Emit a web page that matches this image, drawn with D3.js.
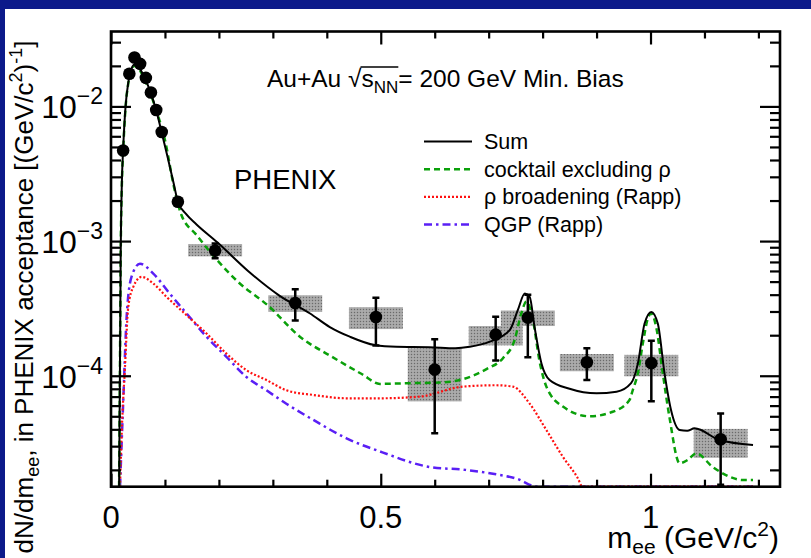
<!DOCTYPE html>
<html>
<head>
<meta charset="utf-8">
<script src="https://cdn.jsdelivr.net/npm/d3@7"></script>
<style>
  html, body { margin: 0; padding: 0; background: #0c1a8a; }
  svg { display: block; font-family: "Liberation Sans", Arial, sans-serif; }
</style>
</head>
<body>
<svg id="chart" width="811" height="558"></svg>
<script>
// measured points (m_ee in GeV/c^2, dN/dm_ee)
var dataX = [0.0225, 0.034, 0.0435, 0.054, 0.0646, 0.074, 0.0838, 0.094, 0.124, 0.193, 0.3415, 0.491, 0.600, 0.713, 0.7726, 0.882, 1.0015, 1.13];
var dataY = [4.7e-3, 1.75e-2, 2.31e-2, 2.07e-2, 1.63e-2, 1.27e-2, 9.4e-3, 6.45e-3, 1.96e-3, 8.5e-4, 3.47e-4, 2.73e-4, 1.11e-4, 2.02e-4, 2.70e-4, 1.26e-4, 1.24e-4, 3.38e-5];
// statistical errors (only the points above 0.15 have visible bars)
var statLo = [null, null, null, null, null, null, null, null, null, 7.45e-4, 2.57e-4, 1.68e-4, 3.74e-5, 1.30e-4, 1.37e-4, 9.3e-5, 6.46e-5, 1.55e-5];
var statHi = [null, null, null, null, null, null, null, null, null, 9.6e-4, 4.39e-4, 3.8e-4, 1.87e-4, 2.74e-4, 4.0e-4, 1.6e-4, 1.82e-4, 5.24e-5];
// systematic boxes
var sysLo = [null, null, null, null, null, null, null, null, null, 7.7e-4, 2.98e-4, 2.22e-4, 6.45e-5, 1.68e-4, 2.34e-4, 1.08e-4, 9.9e-5, 2.46e-5];
var sysHi = [null, null, null, null, null, null, null, null, null, 9.5e-4, 3.96e-4, 3.23e-4, 1.6e-4, 2.34e-4, 3.05e-4, 1.45e-4, 1.43e-4, 4.03e-5];
var sysHalfWidth = 0.05;

// model curves [m_ee, dN/dm_ee]
var sumCurve = [[0.015, 1.5e-5], [0.0165, 1e-4], [0.018, 8e-4], [0.02, 2.6e-3], [0.0225, 4.8e-3], [0.027, 1.0e-2], [0.032, 1.5e-2],
  [0.037, 1.85e-2], [0.043, 2.05e-2], [0.05, 2.0e-2], [0.057, 1.8e-2], [0.065, 1.55e-2], [0.074, 1.25e-2], [0.084, 9.3e-3],
  [0.094, 6.4e-3], [0.105, 4.2e-3], [0.116, 2.7e-3], [0.124, 1.96e-3], [0.139, 1.59e-3], [0.1585, 1.33e-3], [0.197, 9.8e-4],
  [0.254, 6.0e-4], [0.312, 3.94e-4], [0.369, 2.9e-4], [0.4056, 2.3e-4], [0.4426, 1.95e-4], [0.4889, 1.69e-4], [0.529, 1.64e-4],
  [0.59, 1.63e-4], [0.638, 1.6e-4], [0.665, 1.64e-4], [0.702, 1.79e-4], [0.739, 2.18e-4], [0.754, 3.07e-4], [0.767, 4.08e-4],
  [0.776, 3.86e-4], [0.785, 2.31e-4], [0.798, 1.23e-4], [0.813, 9.3e-5], [0.85, 8.0e-5], [0.9, 7.4e-5], [0.937, 7.6e-5],
  [0.964, 8.8e-5], [0.9765, 1.23e-4], [0.989, 2.44e-4], [1.0015, 2.98e-4], [1.0135, 2.44e-4], [1.026, 1.04e-4], [1.038, 5.56e-5],
  [1.054, 3.95e-5], [1.068, 3.9e-5], [1.0815, 4.07e-5], [1.128, 3.33e-5], [1.19, 3.06e-5]];
var cocktailCurve = [[0.015, 1.5e-5], [0.0165, 1e-4], [0.018, 8e-4], [0.02, 2.5e-3], [0.0225, 4.6e-3], [0.027, 9.8e-3], [0.032, 1.48e-2],
  [0.037, 1.82e-2], [0.043, 2.0e-2], [0.05, 1.95e-2], [0.057, 1.75e-2], [0.065, 1.5e-2], [0.074, 1.22e-2], [0.0818, 9.9e-3],
  [0.101, 5.4e-3], [0.116, 2.6e-3], [0.1298, 1.59e-3], [0.1585, 1.11e-3], [0.197, 7.2e-4], [0.235, 5.0e-4], [0.2926, 3.28e-4],
  [0.35, 1.95e-4], [0.4074, 1.4e-4], [0.4648, 1.03e-4], [0.4985, 8.7e-5], [0.551, 8.8e-5], [0.61, 8.9e-5], [0.655, 9.5e-5],
  [0.696, 1.12e-4], [0.7265, 1.35e-4], [0.748, 1.84e-4], [0.7605, 2.9e-4], [0.77, 3.55e-4], [0.782, 2.6e-4], [0.794, 1.3e-4],
  [0.807, 8.3e-5], [0.8376, 5.9e-5], [0.887, 5.0e-5], [0.93, 5.4e-5], [0.961, 6.6e-5], [0.967, 7.8e-5], [0.9765, 1.04e-4],
  [0.9858, 1.74e-4], [0.995, 2.66e-4], [1.0013, 2.9e-4], [1.0105, 2.3e-4], [1.0228, 1.04e-4], [1.035, 4.95e-5], [1.054, 2.24e-5],
  [1.069, 2.37e-5], [1.0846, 2.65e-5], [1.1154, 2.1e-5], [1.146, 1.78e-5], [1.171, 1.68e-5], [1.19, 1.68e-5]];
var rhoCurve = [[0.0167, 1.4e-5], [0.0198, 3.73e-5], [0.0259, 1.16e-4], [0.032, 3.24e-4], [0.0413, 4.57e-4], [0.0568, 5.42e-4],
  [0.0784, 4.84e-4], [0.103, 3.85e-4], [0.14, 2.82e-4], [0.177, 2.06e-4], [0.214, 1.46e-4], [0.251, 1.1e-4], [0.288, 9.3e-5],
  [0.325, 7.8e-5], [0.375, 7.2e-5], [0.4365, 6.8e-5], [0.498, 6.8e-5], [0.572, 7.0e-5], [0.652, 8.3e-5], [0.714, 8.5e-5],
  [0.745, 8.3e-5], [0.776, 6.2e-5], [0.807, 3.95e-5], [0.8376, 2.5e-5], [0.865, 1.74e-5], [0.874, 1.4e-5], [1.19, 1.4e-5]];
var qgpCurve = [[0.0167, 1.4e-5], [0.0228, 6.6e-5], [0.029, 2.74e-4], [0.038, 5.42e-4], [0.0537, 6.8e-4], [0.0784, 5.74e-4],
  [0.109, 4.07e-4], [0.14, 2.9e-4], [0.177, 1.95e-4], [0.214, 1.38e-4], [0.251, 9.8e-5], [0.288, 7.8e-5], [0.325, 6.2e-5],
  [0.375, 4.7e-5], [0.4365, 3.43e-5], [0.503, 2.7e-5], [0.591, 2.1e-5], [0.657, 2.0e-5], [0.705, 1.88e-5], [0.752, 1.72e-5],
  [0.79, 1.4e-5], [1.19, 1.4e-5]];

var legendLabels = ['Sum', 'cocktail excluding ρ', 'ρ broadening (Rapp)', 'QGP (Rapp)'];
var xTickLabels = [0, 0.5, 1];
var yTickExponents = [-2, -3, -4];

(function() {
  var svg = d3.select('#chart');
  var W = 811, H = 558;
  var pLeft = 111, pRight = 780, pTop = 31.5, pBottom = 486.7;

  // page
  svg.append('rect').attr('x', 5).attr('y', 9).attr('width', W - 5).attr('height', H - 9).attr('fill', '#fff');

  var defs = svg.append('defs');
  var pat = defs.append('pattern').attr('id', 'sysfill').attr('patternUnits', 'userSpaceOnUse')
    .attr('width', 3).attr('height', 3);
  pat.append('rect').attr('width', 3).attr('height', 3).attr('fill', '#a2a2a2');
  pat.append('rect').attr('width', 1).attr('height', 1).attr('fill', '#6a6a6a');
  pat.append('rect').attr('x', 1.5).attr('y', 1.5).attr('width', 1).attr('height', 1).attr('fill', '#c8c8c8');
  defs.append('clipPath').attr('id', 'plotclip').append('rect')
    .attr('x', pLeft).attr('y', pTop).attr('width', pRight - pLeft).attr('height', pBottom - pTop);

  var x = d3.scaleLinear().domain([0, 1.24]).range([pLeft, pRight]);
  var y = d3.scaleLog().domain([1.5e-5, 3.6e-2]).range([pBottom, pTop]).clamp(true);

  var plot = svg.append('g').attr('clip-path', 'url(#plotclip)');

  // systematic boxes
  var idx = d3.range(dataX.length).filter(function(i) { return sysLo[i] !== null; });
  plot.selectAll('rect.sys').data(idx).enter().append('rect')
    .attr('x', function(i) { return x(dataX[i] - sysHalfWidth); })
    .attr('width', function(i) { return x(dataX[i] + sysHalfWidth) - x(dataX[i] - sysHalfWidth); })
    .attr('y', function(i) { return y(sysHi[i]); })
    .attr('height', function(i) { return y(sysLo[i]) - y(sysHi[i]); })
    .attr('fill', 'url(#sysfill)');

  var line = d3.line()
    .x(function(d) { return x(d[0]); })
    .y(function(d) { return y(d[1]); })
    .curve(d3.curveMonotoneX);

  var styles = [
    { data: sumCurve, color: '#000', width: 2, dash: null },
    { data: cocktailCurve, color: '#0aa00a', width: 2.5, dash: '6,4' },
    { data: rhoCurve, color: '#ff1010', width: 2.2, dash: '2,2' },
    { data: qgpCurve, color: '#5a1ff5', width: 2.5, dash: '8,4,2.5,4' }
  ];
  // draw qgp/rho/cocktail first, sum on top
  [3, 2, 1, 0].forEach(function(k) {
    var s = styles[k];
    plot.append('path').datum(s.data)
      .attr('fill', 'none').attr('stroke', s.color).attr('stroke-width', s.width)
      .attr('stroke-dasharray', s.dash).attr('d', line);
  });

  // error bars
  var bars = plot.selectAll('g.err').data(idx).enter().append('g');
  bars.append('line')
    .attr('x1', function(i) { return x(dataX[i]); }).attr('x2', function(i) { return x(dataX[i]); })
    .attr('y1', function(i) { return y(statLo[i]); }).attr('y2', function(i) { return y(statHi[i]); })
    .attr('stroke', '#000').attr('stroke-width', 2.5);
  [statLo, statHi].forEach(function(arr) {
    bars.append('line')
      .attr('x1', function(i) { return x(dataX[i]) - 3.5; }).attr('x2', function(i) { return x(dataX[i]) + 3.5; })
      .attr('y1', function(i) { return y(arr[i]); }).attr('y2', function(i) { return y(arr[i]); })
      .attr('stroke', '#000').attr('stroke-width', 2.5);
  });

  // points
  plot.selectAll('circle').data(dataX).enter().append('circle')
    .attr('cx', function(d) { return x(d); })
    .attr('cy', function(d, i) { return y(dataY[i]); })
    .attr('r', 6.3).attr('fill', '#000');

  // ticks: inward, on all four sides
  var xMinor = d3.range(1, 13).map(function(k) { return k / 10; }).filter(function(v) { return v !== 0.5 && v !== 1; });
  var xMajor = [0, 0.5, 1];
  var yMinor = [];
  [1e-5, 1e-4, 1e-3, 1e-2].forEach(function(dec) {
    for (var m = 2; m <= 9; m++) {
      var v = m * dec;
      if (v >= 1.5e-5 && v <= 3.6e-2) yMinor.push(v);
    }
  });
  var yMajor = [1e-4, 1e-3, 1e-2];

  function tickAxis(axisFn, scale, values, size, tx, ty) {
    svg.append('g').attr('transform', 'translate(' + tx + ',' + ty + ')')
      .call(axisFn(scale).tickValues(values).tickSize(size).tickFormat(''))
      .call(function(g) { g.select('.domain').remove(); })
      .selectAll('line').attr('stroke', '#000').attr('stroke-width', 2.2);
  }
  tickAxis(d3.axisBottom, x, xMinor, -7, 0, pBottom);
  tickAxis(d3.axisBottom, x, xMajor, -13, 0, pBottom);
  tickAxis(d3.axisTop, x, xMinor, -7, 0, pTop);
  tickAxis(d3.axisTop, x, xMajor, -13, 0, pTop);
  tickAxis(d3.axisLeft, y, yMinor, -10, pLeft, 0);
  tickAxis(d3.axisLeft, y, yMajor, -20, pLeft, 0);
  tickAxis(d3.axisRight, y, yMinor, -10, pRight, 0);
  tickAxis(d3.axisRight, y, yMajor, -20, pRight, 0);

  // frame
  svg.append('rect').attr('x', pLeft).attr('y', pTop).attr('width', pRight - pLeft).attr('height', pBottom - pTop)
    .attr('fill', 'none').attr('stroke', '#000').attr('stroke-width', 2.6);

  // tick labels
  svg.selectAll('text.xl').data(xTickLabels).enter().append('text')
    .attr('x', function(d) { return x(d); }).attr('y', 528)
    .attr('text-anchor', 'middle').attr('font-size', 31).text(function(d) { return d; });

  yTickExponents.forEach(function(e) {
    var t = svg.append('text').attr('x', 103).attr('y', y(Math.pow(10, e)) + 12)
      .attr('text-anchor', 'end').attr('font-size', 32);
    t.append('tspan').text('10');
    t.append('tspan').attr('dy', -14).attr('font-size', 23).text('\u2212' + (-e));
  });

  // axis titles
  var xt = svg.append('text').attr('x', 779).attr('y', 548).attr('text-anchor', 'end').attr('font-size', 30);
  xt.append('tspan').text('m');
  xt.append('tspan').attr('dy', 6).attr('font-size', 21).text('ee');
  xt.append('tspan').attr('dy', -6).text(' (GeV/c');
  xt.append('tspan').attr('dy', -12).attr('font-size', 21).text('2');
  xt.append('tspan').attr('dy', 12).text(')');

  var yt = svg.append('text').attr('transform', 'translate(33,297) rotate(-90)')
    .attr('text-anchor', 'middle').attr('font-size', 26);
  yt.append('tspan').text('dN/dm');
  yt.append('tspan').attr('dy', 6).attr('font-size', 18).text('ee');
  yt.append('tspan').attr('dy', -6).text(', in PHENIX acceptance [(GeV/c');
  yt.append('tspan').attr('dy', -11).attr('font-size', 18).text('2');
  yt.append('tspan').attr('dy', 11).text(')');
  yt.append('tspan').attr('dy', -11).attr('font-size', 18).text('-1');
  yt.append('tspan').attr('dy', 11).text(']');

  // annotations
  var au = svg.append('text').attr('x', 267).attr('y', 87).attr('font-size', 24.5);
  au.append('tspan').text('Au+Au \u221A');
  au.append('tspan').text('s');
  au.append('tspan').attr('dy', 6).attr('font-size', 17).text('NN');
  au.append('tspan').attr('dy', -6).text('= 200 GeV Min. Bias');
  var auNode = au.node();
  svg.append('line').attr('x1', auNode.getEndPositionOfChar(6).x - 1).attr('x2', auNode.getEndPositionOfChar(9).x)
    .attr('y1', 67).attr('y2', 67).attr('stroke', '#000').attr('stroke-width', 1.3);

  svg.append('text').attr('x', 234).attr('y', 189).attr('font-size', 27.5).text('PHENIX');

  // legend
  var legend = svg.append('g');
  styles.forEach(function(s, k) {
    var cy = 141.6 + k * 27.6;
    legend.append('line').attr('x1', 424).attr('x2', 472).attr('y1', cy).attr('y2', cy)
      .attr('stroke', s.color).attr('stroke-width', s.width).attr('stroke-dasharray', s.dash);
    legend.append('text').attr('x', 484).attr('y', cy + 7.5).attr('font-size', 21.5).text(legendLabels[k]);
  });
})();
</script>
</body>
</html>
